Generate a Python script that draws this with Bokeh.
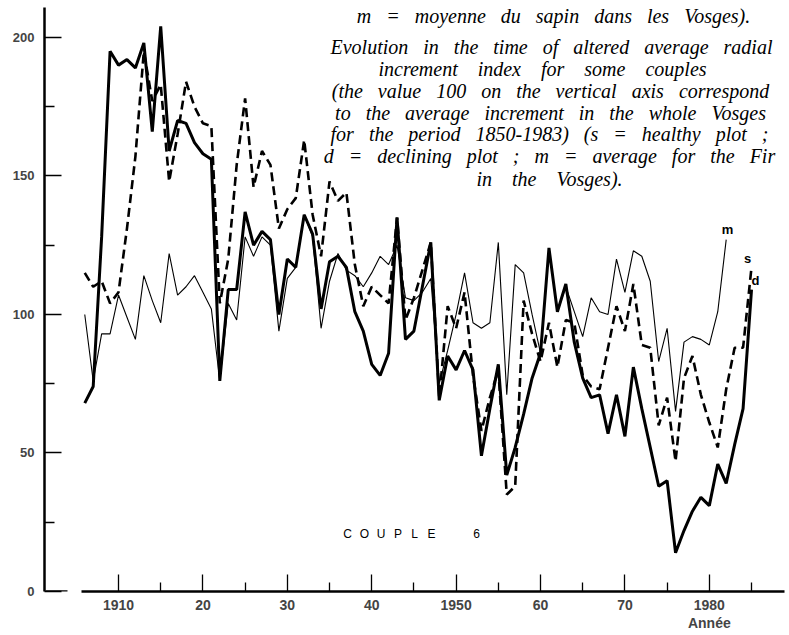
from bokeh.plotting import figure
from bokeh.models import FixedTicker, Label, Range1d
from bokeh.embed import file_html
from bokeh.resources import INLINE

# ---------------- data ----------------
years_ds = list(range(1906, 1986))
years_m = list(range(1906, 1983))

# d = declining plot (thick solid)
d_vals = [68, 74, 128, 195, 190, 192, 189, 198, 166, 204,
          159, 170, 169, 162, 158, 156, 76, 109, 109, 137,
          125, 130, 127, 100, 120, 117, 136, 129, 102, 119,
          121, 117, 101, 94, 82, 78, 86, 135, 91, 94,
          110, 126, 69, 85, 80, 87, 80, 49, 66, 82,
          42, 52, 64, 77, 86, 124, 101, 111, 90, 77,
          70, 71, 57, 71, 56, 81, 66, 52, 38, 40,
          14, 22, 29, 34, 31, 46, 39, 53, 66, 109]

# s = healthy plot (dashed)
s_vals = [115, 110, 112, 104, 108, 131, 157, 195, 177, 183,
          148, 165, 184, 175, 169, 168, 104, 120, 154, 178,
          146, 159, 154, 131, 138, 142, 163, 136, 121, 148,
          141, 144, 118, 103, 110, 107, 104, 135, 98, 106,
          116, 126, 70, 103, 95, 108, 78, 58, 70, 80,
          35, 38, 105, 93, 83, 97, 81, 98, 97, 78,
          74, 73, 88, 103, 94, 111, 89, 88, 60, 70,
          47, 77, 85, 71, 61, 52, 73, 88, 88, 117]

# m = average for the Fir in the Vosges (thin solid)
m_vals = [100, 76, 93, 93, 107, 99, 91, 114, 105, 97,
          122, 107, 110, 114, 108, 102, 76, 104, 98, 128,
          121, 128, 125, 94, 113, 117, 136, 128, 95, 112,
          122, 116, 114, 110, 115, 121, 118, 125, 106, 105,
          108, 113, 75, 87, 100, 115, 97, 95, 97, 126,
          71, 118, 115, 100, 86, 124, 101, 110, 101, 92,
          106, 101, 100, 120, 108, 123, 121, 112, 83, 95,
          65, 90, 92, 91, 89, 101, 127]

y_major = [0, 50, 100, 150, 200]
y_minor = [25, 75, 125, 175]
x_major = [1910, 1920, 1930, 1940, 1950, 1960, 1970, 1980]
x_minor = [1915, 1925, 1935, 1945, 1955, 1965, 1975, 1985]
x_labels = {1910: "1910", 1920: "20", 1930: "30", 1940: "40",
            1950: "1950", 1960: "60", 1970: "70", 1980: "1980\nAnnée"}

caption_fr = "m = moyenne du sapin dans les Vosges)."
caption_en = [
    "Evolution in the time of altered average radial",
    "increment index for some couples",
    "(the value 100 on the vertical axis correspond",
    "to the average increment in the whole Vosges",
    "for the period 1850-1983) (s = healthy plot ;",
    "d = declining plot ; m = average for the Fir",
    "in the Vosges).",
]

# ---------------- layout ----------------
W, H = 789, 635
L, R, T, B = 44, 0, 7, 44
FW, FH = W - L - R, H - T - B
X0, X1 = 1901.23, 1989.5
Y0, Y1 = 0.0, 210.8


def dx(px):
    return X0 + (px - L) * (X1 - X0) / FW


def dy(py):
    return Y0 + (T + FH - py) * (Y1 - Y0) / FH


def spread(text, n):
    # widen the word spacing like the letter-spaced print of the original
    return text.replace(" ", " " + "\u00a0" * n)


p = figure(width=W, height=H, x_range=Range1d(X0, X1), y_range=Range1d(Y0, Y1),
           output_backend="svg", toolbar_location=None,
           min_border_left=L, min_border_right=R, min_border_top=T, min_border_bottom=B)
p.title.visible = False
p.outline_line_color = None
p.xgrid.visible = False
p.ygrid.visible = False
p.background_fill_color = "white"
p.border_fill_color = "white"

ya = p.yaxis[0]
ya.ticker = FixedTicker(ticks=y_major, minor_ticks=y_minor)
ya.axis_line_width = 2.5
ya.major_tick_in = 17
ya.major_tick_out = 0
ya.minor_tick_in = 10
ya.minor_tick_out = 0
ya.major_tick_line_width = 1.3
ya.minor_tick_line_width = 1.3
ya.major_label_text_font = "Liberation Sans"
ya.major_label_text_font_style = "bold"
ya.major_label_text_font_size = "13px"
ya.major_label_standoff = 10

xa = p.xaxis[0]
xa.ticker = FixedTicker(ticks=x_major, minor_ticks=x_minor)
xa.major_label_overrides = x_labels
xa.bounds = (1905.6, 1988.9)
xa.axis_line_width = 2.5
xa.major_tick_in = 17
xa.major_tick_out = 0
xa.minor_tick_in = 9
xa.minor_tick_out = 0
xa.major_tick_line_width = 1.3
xa.minor_tick_line_width = 1.3
xa.major_label_text_font = "Liberation Sans"
xa.major_label_text_font_style = "bold"
xa.major_label_text_font_size = "14px"
xa.major_label_text_line_height = 1.15
xa.major_label_standoff = 5

# little foot at the bottom of the vertical axis
p.segment(x0=[dx(45)], y0=[0], x1=[dx(67)], y1=[0], line_width=2.5, line_color="black")

# series
p.line(years_m, m_vals, line_width=1.1, line_color="black")
p.line(years_ds, s_vals, line_width=2.6, line_color="black", line_dash="9 5")
p.line(years_ds, d_vals, line_width=3.0, line_color="black")


def lab(px, py, text, font="Liberation Sans", size="13px", style="bold", align="center"):
    p.add_layout(Label(x=dx(px), y=dy(py), text=text, text_font=font,
                       text_font_size=size, text_font_style=style,
                       text_align=align, text_baseline="middle", text_color="black"))


# series labels
lab(727, 229, "m")
lab(747, 258, "s")
lab(755, 280, "d")

# COUPLE 6
for i, ch in enumerate("COUPLE"):
    lab(347 + i * 16.8, 533, ch, size="12px", style="normal")
lab(476, 533, "6", size="12px", style="normal")

# caption
serif = "Liberation Serif"
lab(553, 15, spread(caption_fr, 2), font=serif, size="20px", style="italic")
cap_y = [46, 68, 90, 112, 133, 155, 178]
cap_x = [551, 542, 550, 550, 549, 549, 549]
cap_n = [2, 3, 2, 2, 2, 2, 3]
for text, xx, yy, n in zip(caption_en, cap_x, cap_y, cap_n):
    lab(xx, yy, spread(text, n), font=serif, size="20px", style="italic")

open("out.html", "w").write(file_html(p, INLINE))
